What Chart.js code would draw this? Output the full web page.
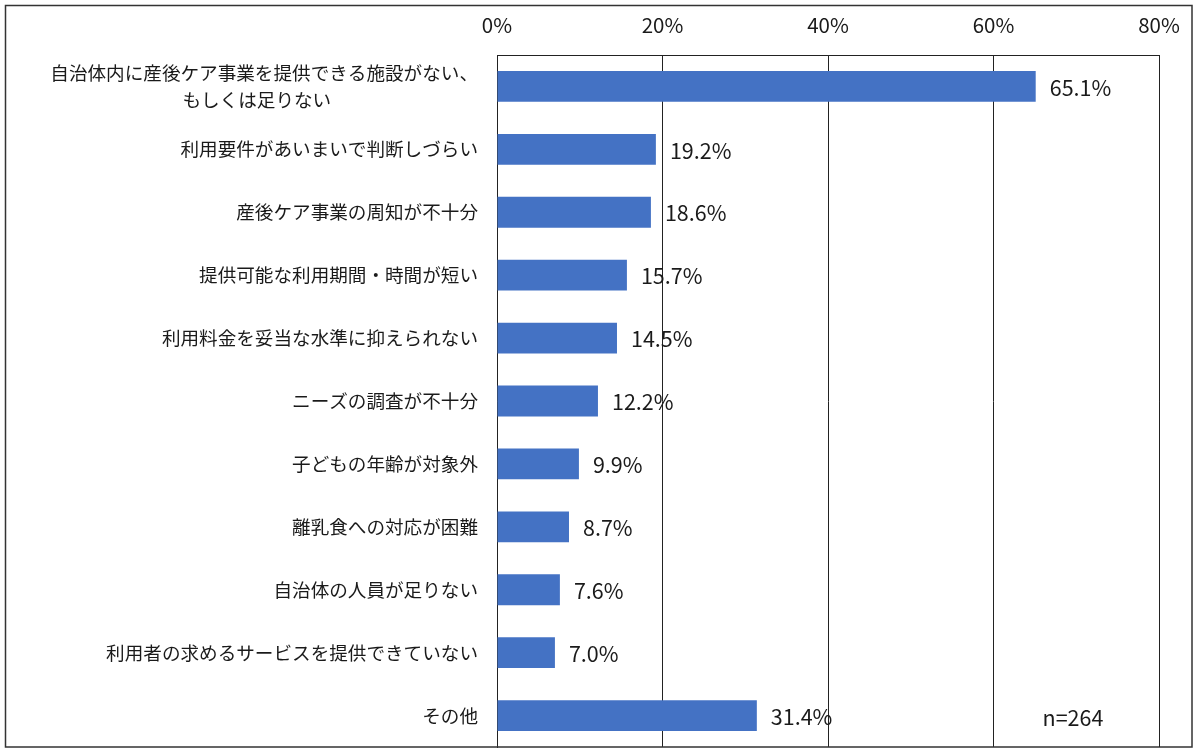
<!DOCTYPE html>
<html>
<head>
<meta charset="utf-8">
<script src="https://cdn.jsdelivr.net/npm/chart.js@4"></script>
<style>
html,body{margin:0;padding:0;background:#fff;}
#wrap{width:1200px;height:756px;position:relative;}
</style>
</head>
<body>
<div id="wrap"><canvas id="c" width="1200" height="756"></canvas></div>
<script>
const categories = [
  ["自治体内に産後ケア事業を提供できる施設がない、", "もしくは足りない"],
  "利用要件があいまいで判断しづらい",
  "産後ケア事業の周知が不十分",
  "提供可能な利用期間・時間が短い",
  "利用料金を妥当な水準に抑えられない",
  "ニーズの調査が不十分",
  "子どもの年齢が対象外",
  "離乳食への対応が困難",
  "自治体の人員が足りない",
  "利用者の求めるサービスを提供できていない",
  "その他"
];
const values = [65.1, 19.2, 18.6, 15.7, 14.5, 12.2, 9.9, 8.7, 7.6, 7.0, 31.4];
const xTicks = [0, 20, 40, 60, 80];
const sampleNote = "n=264";

const FONT = '"Noto Sans CJK JP", "Noto Sans", sans-serif';

// the second line of a wrapped label is centred under the first one
const displayLabels = categories.map(l => {
  if (!Array.isArray(l)) return l;
  return [l[0], l[1] + "\u3000".repeat(7) + "    "];
});

const framePlugin = {
  id: 'frame',
  afterDraw(chart) {
    const ctx = chart.ctx;
    const ca = chart.chartArea;
    ctx.save();
    ctx.strokeStyle = '#333';
    ctx.lineWidth = 1.5;
    ctx.strokeRect(5.5, 5.5, 1186.5, 741.5);
    ctx.strokeStyle = '#222';
    ctx.lineWidth = 1;
    ctx.beginPath();
    ctx.moveTo(ca.left, ca.top + 0.5);
    ctx.lineTo(ca.right + 0.5, ca.top + 0.5);
    ctx.lineTo(ca.right + 0.5, ca.bottom);
    ctx.stroke();
    ctx.restore();
  }
};

const labelPlugin = {
  id: 'valueLabels',
  afterDatasetsDraw(chart) {
    const ctx = chart.ctx;
    const meta = chart.getDatasetMeta(0);
    ctx.save();
    ctx.font = '21.5px ' + FONT;
    ctx.fillStyle = '#1a1a1a';
    ctx.textAlign = 'left';
    ctx.textBaseline = 'middle';
    meta.data.forEach((bar, i) => {
      ctx.fillText(values[i].toFixed(1) + '%', bar.x + 14, bar.y + 1);
    });
    const xs = chart.scales.x, ys = chart.scales.y;
    ctx.textAlign = 'center';
    ctx.fillText(sampleNote, xs.getPixelForValue(69.6), ys.getPixelForValue(categories.length - 1) + 2);
    ctx.restore();
  }
};

new Chart(document.getElementById('c'), {
  type: 'bar',
  data: {
    labels: displayLabels,
    datasets: [{
      data: values,
      backgroundColor: '#4472C4',
      borderWidth: 0,
      barPercentage: 0.49,
      categoryPercentage: 1.0
    }]
  },
  options: {
    indexAxis: 'y',
    responsive: false,
    animation: false,
    devicePixelRatio: 1,
    layout: { padding: { left: 0, right: 41, top: 0, bottom: 9 } },
    plugins: { legend: { display: false }, tooltip: { enabled: false } },
    scales: {
      x: {
        position: 'top',
        min: 0, max: 80,
        afterBuildTicks(scale) { scale.ticks = xTicks.map(v => ({ value: v })); },
        afterFit(scale) { scale.height = 55; scale.paddingLeft = 0; scale.paddingRight = 0; },
        ticks: {
          callback: v => v + '%',
          color: '#1a1a1a',
          font: { family: FONT, size: 20.5 },
          padding: 17,
          maxRotation: 0
        },
        grid: { color: '#222', lineWidth: 1, drawTicks: false },
        border: { display: true, color: '#222', width: 1 }
      },
      y: {
        afterFit(scale) { scale.width = 497; scale.paddingTop = 0; scale.paddingBottom = 0; },
        ticks: {
          color: '#1a1a1a',
          font: { family: FONT, size: 18.6, lineHeight: 1.45 },
          padding: 19,
          autoSkip: false
        },
        grid: { display: false, drawTicks: false },
        border: { display: true, color: '#222', width: 1 }
      }
    }
  },
  plugins: [framePlugin, labelPlugin]
});
</script>
</body>
</html>
